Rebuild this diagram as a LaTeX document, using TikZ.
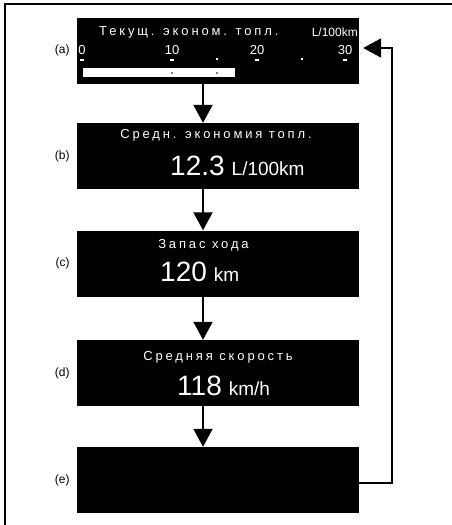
\documentclass[tikz,border=0pt]{standalone}
\usepackage{fontspec}
\setmainfont{Liberation Sans}
\newfontfamily\lcdfont[LetterSpace=22]{Liberation Sans}
\usetikzlibrary{positioning,arrows.meta}

\newcommand{\lcdvalue}[2]{{\fontsize{28}{30}\selectfont #1}\hspace{7pt}{\fontsize{19}{20}\selectfont #2}}

\begin{document}
\begin{tikzpicture}[x=1pt,y=-1pt,
  screen/.style={fill=black, minimum width=282pt, minimum height=66pt, inner sep=0pt},
  tag/.style={font=\fontsize{12}{14}\selectfont, inner sep=1pt},
  title/.style={text=white, font=\lcdfont\fontsize{13}{15}\selectfont, inner sep=0pt},
  unit/.style={text=white, font=\fontsize{12}{14}\selectfont, inner sep=0pt},
  value/.style={text=white, inner sep=0pt, anchor=base west},
  scalenum/.style={text=white, font=\fontsize{13}{14}\selectfont, inner sep=0pt},
  flow/.style={line width=2pt, -{Triangle[width=19pt,length=18pt]}}]

\useasboundingbox (0,0) rectangle (452,525);

% Frame
\draw[line width=1.6pt] (5,525) |- (452,4);

% Screens
\node[screen] (a) at (218,50.5) {};
\node[screen] (b) at (218,156) {};
\node[screen] (c) at (218,263.5) {};
\node[screen] (d) at (218,373) {};
\node[screen] (e) at (218,480) {};

% Labels
\foreach \n in {a,b,c,d,e}
  \node[tag, left=6pt of \n] (l\n) {(\n)};

% (a) current consumption with scale
\node[title, anchor=west] (atitle) at (99,32) {Текущ. эконом. топл.};
\node[unit, anchor=east] (aunit) at (358,32) {L/100km};
\foreach \v/\x in {0/82,10/172,20/257,30/345} {
  \node[scalenum] (s\v) at (\x,50) {\v};
  \fill[white] (\x-2,59) rectangle (\x+2,61);
}
\foreach \x in {217,302}
  \fill[white] (\x-1,58) rectangle (\x+1,60);
\fill[white] (83,68) rectangle (235,77);
\foreach \x in {172,217}
  \fill[gray] (\x-1,71.5) rectangle (\x+1,73.5);

% (b) average consumption
\node[title] (btitle) at (216,135) {Средн. экономия топл.};
\node[value] (bval) at (170,175) {\lcdvalue{12.3}{L/100km}};

% (c) range
\node[title] (ctitle) at (203.5,245) {Запас хода};
\node[value] (cval) at (160,281) {\lcdvalue{120}{km}};

% (d) average speed
\node[title] (dtitle) at (218,357) {Средняя скорость};
\node[value] (dval) at (177,395) {\lcdvalue{118}{km/h}};

% Arrows
\foreach \s/\t in {a/b,b/c,c/d,d/e}
  \draw[flow] ([xshift=-15pt]\s.south) -- ([xshift=-15pt]\t.north);

% Back to (a)
\draw[flow] ([yshift=-3pt]e.east) -- ++(33,0) |- ([xshift=4pt,yshift=2.5pt]a.east);

\end{tikzpicture}
\end{document}
